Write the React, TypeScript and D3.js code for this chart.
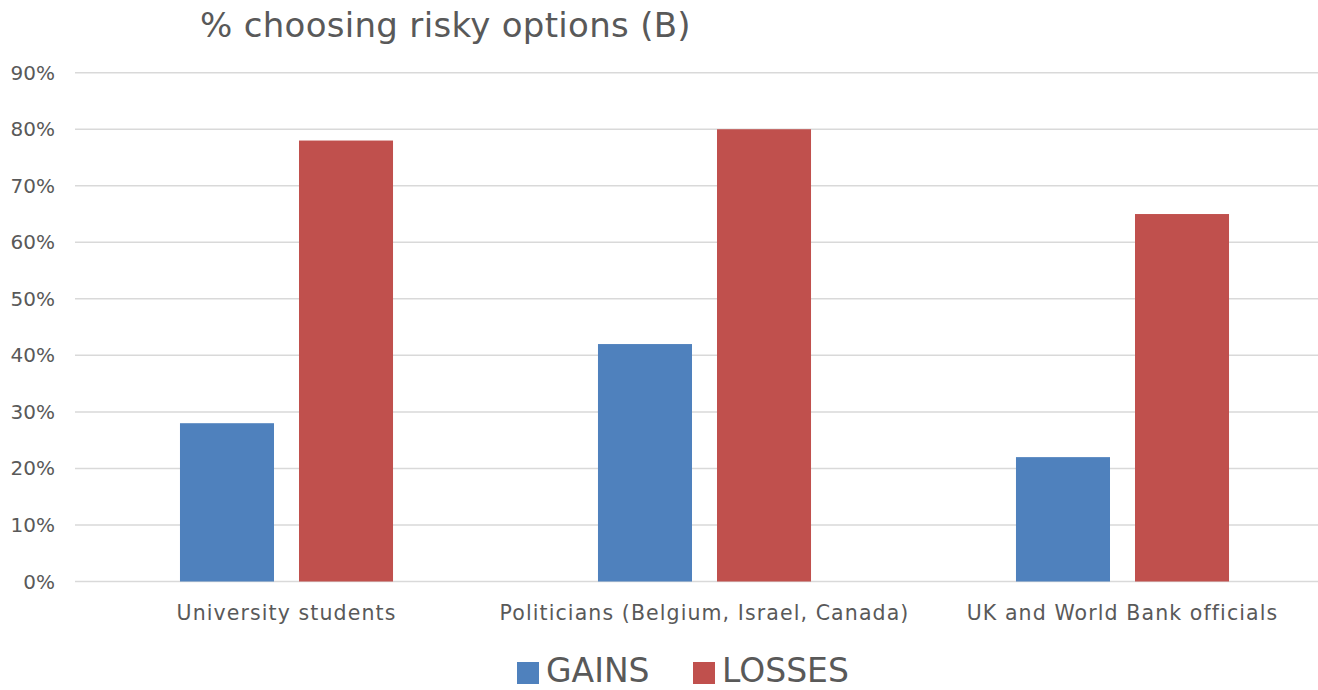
import React from "react";
import * as d3 from "d3";

const categories = [
  "University students",
  "Politicians (Belgium, Israel, Canada)",
  "UK and World Bank officials",
];
const seriesNames = ["GAINS", "LOSSES"];
const gains = [0.28, 0.42, 0.22];
const losses = [0.78, 0.8, 0.65];
const yTicks = [0, 0.1, 0.2, 0.3, 0.4, 0.5, 0.6, 0.7, 0.8, 0.9];
const colors = ["#4F81BD", "#C0504D"];
const title = "% choosing risky options (B)";

const W = 1318;
const H = 690;
const FONT = "'Century Gothic', 'DejaVu Sans', sans-serif";
const TXT = "#595959";

export default function App() {
  const x0 = d3.scaleBand<string>().domain(categories).range([77.5, 1331.5]).padding(0);
  const x1 = d3
    .scaleBand<string>()
    .domain(seriesNames)
    .range([0, x0.bandwidth()])
    .paddingInner(0.21)
    .paddingOuter(0.861);
  const y = d3.scaleLinear().domain([0, 0.9]).range([581.5, 72.7]);
  const fmt = d3.format(".0%");
  const values = [gains, losses];

  return (
    <svg
      width={W}
      height={H}
      style={{ position: "absolute", left: 0, top: 0, background: "#fff" }}
      fontFamily={FONT}
    >
      <text x={200} y={37} fontSize={34} letterSpacing={0.3} fill={TXT}>
        {title}
      </text>
      {yTicks.map((t) => (
        <g key={t}>
          <line x1={75} x2={W} y1={y(t)} y2={y(t)} stroke="#D9D9D9" strokeWidth={1.5} />
          <text x={55} y={y(t)} dy="0.35em" textAnchor="end" fontSize={20} fill={TXT}>
            {fmt(t)}
          </text>
        </g>
      ))}
      {categories.map((c, i) => (
        <g key={c} transform={`translate(${x0(c)},0)`}>
          {seriesNames.map((s, j) => (
            <rect
              key={s}
              x={x1(s)}
              y={y(values[j][i])}
              width={x1.bandwidth()}
              height={y(0) - y(values[j][i])}
              fill={colors[j]}
            />
          ))}
          <text
            x={x0.bandwidth() / 2}
            y={620}
            textAnchor="middle"
            fontSize={20.5}
            letterSpacing={1.1}
            fill={TXT}
          >
            {c}
          </text>
        </g>
      ))}
      {seriesNames.map((s, j) => {
        const lx = j === 0 ? 517 : 693;
        return (
          <g key={s}>
            <rect x={lx} y={662} width={22} height={22} fill={colors[j]} />
            <text x={lx + 29} y={682} fontSize={33} fill={TXT}>
              {s}
            </text>
          </g>
        );
      })}
    </svg>
  );
}
